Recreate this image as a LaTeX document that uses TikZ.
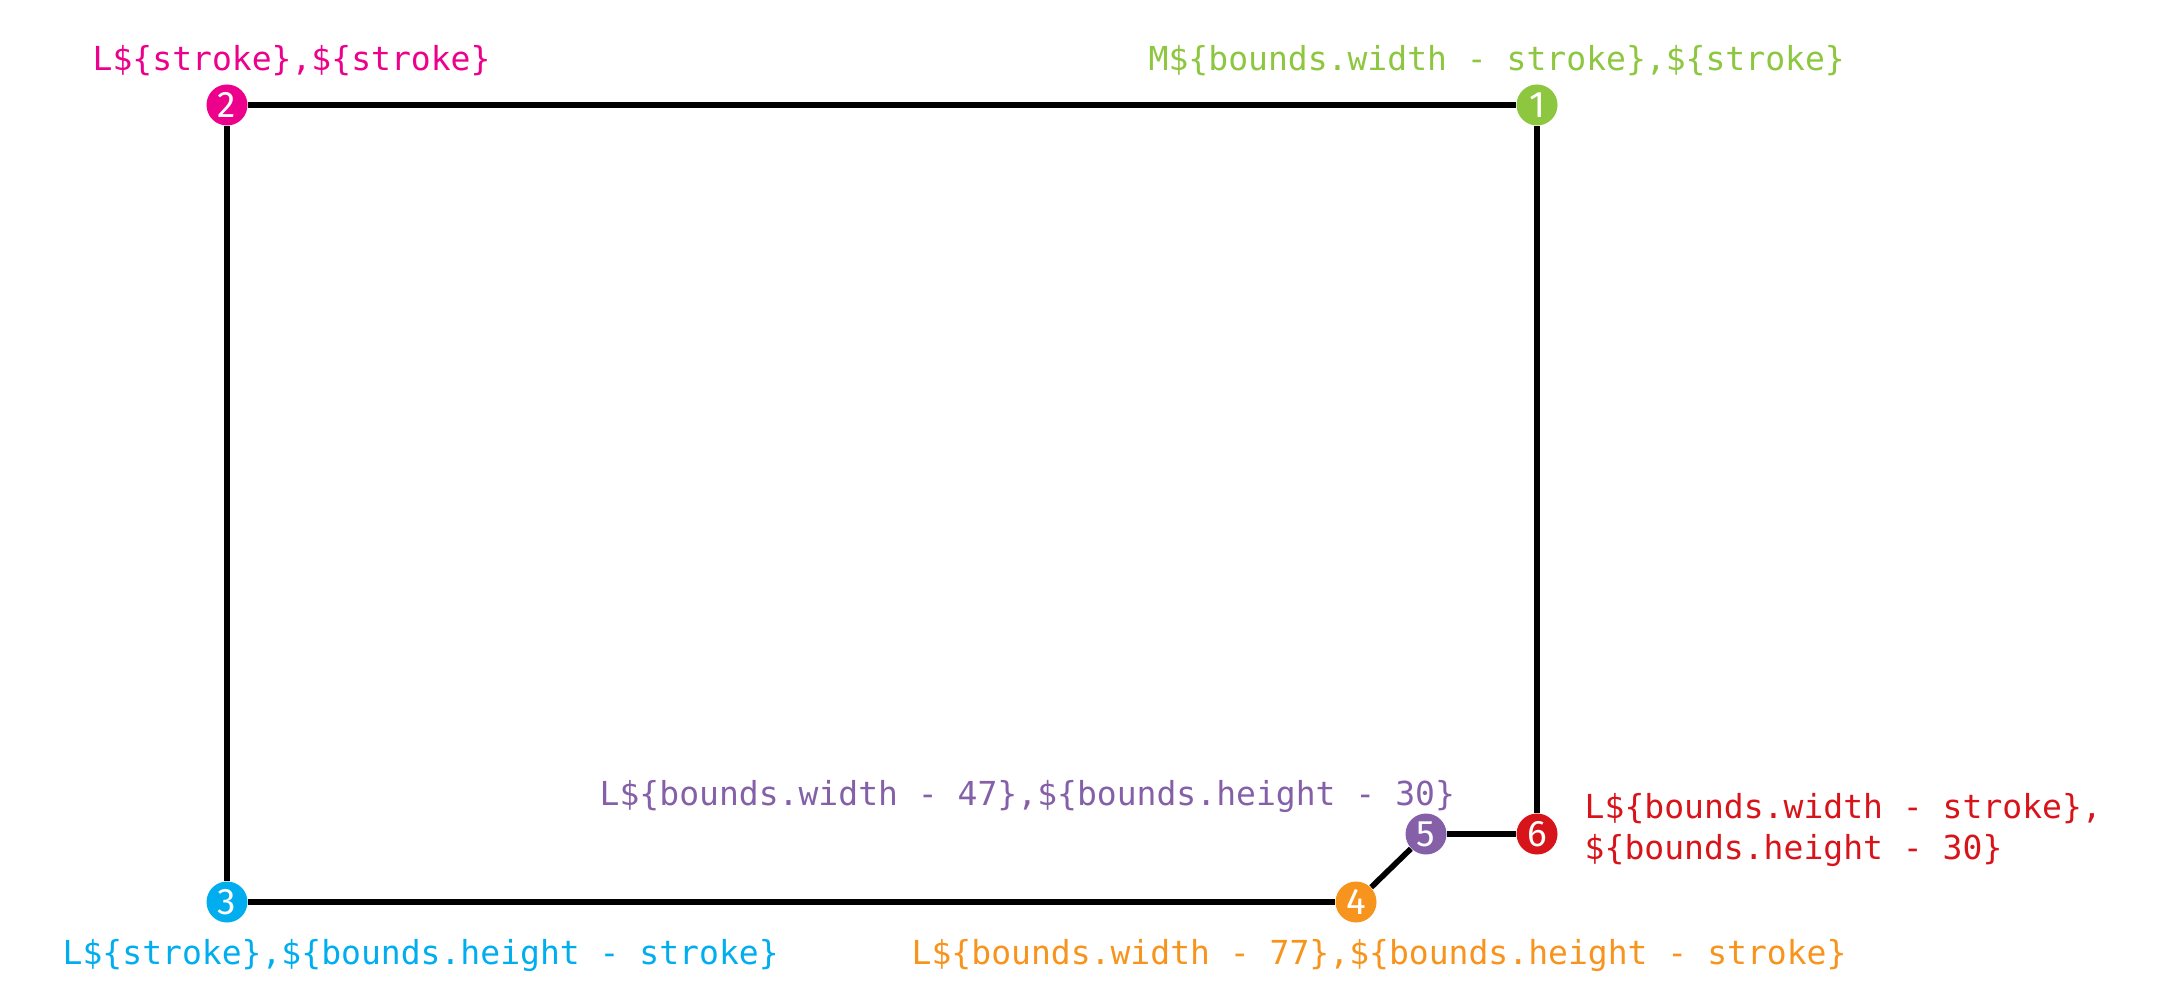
\documentclass[tikz,border=0pt]{standalone}
\usepackage{fontspec}
\setmonofont{DejaVu Sans Mono}
\setsansfont{Fira Sans}
\usetikzlibrary{positioning,graphs}
\definecolor{ptMagenta}{HTML}{EC008C}
\definecolor{ptGreen}{HTML}{8DC63F}
\definecolor{ptCyan}{HTML}{00AEEF}
\definecolor{ptOrange}{HTML}{F7941D}
\definecolor{ptPurple}{HTML}{8560A8}
\definecolor{ptRed}{HTML}{D7141A}

\begin{document}
\begin{tikzpicture}[dot/.style={circle, fill=#1, text=white, inner sep=0pt,
         minimum size=0.41cm, font=\sffamily\fontsize{10.5}{10.5}\selectfont},
         code/.style={text=#1, anchor=west, inner sep=0pt, align=left,
         font=\ttfamily\fontsize{9.4}{11.4}\selectfont}]
 \useasboundingbox (0,0) rectangle (21.6,-10.08);
 % the points of the path
 \node[dot=ptGreen]   (Move)      at (15.37,-1.05) {1};
 \node[dot=ptMagenta] (TopLeft)   at (2.27,-1.05)  {2};
 \node[dot=ptCyan]    (BotLeft)   at (2.27,-9.02)  {3};
 \node[dot=ptOrange]  (BotNotch)  at (13.56,-9.02) {4};
 \node[dot=ptPurple]  (TopNotch)  at (14.26,-8.34) {5};
 \node[dot=ptRed]     (RightNotch) at (15.37,-8.34) {6};
 \graph [use existing nodes, edges={line width=1.6pt}]
        { Move -- TopLeft -- BotLeft -- BotNotch -- TopNotch -- RightNotch -- Move };
 % the path commands
 \node[code=ptGreen]   (MoveText)     at (11.48,-0.61) {M\$\{bounds.width - stroke\},\$\{stroke\}};
 \node[code=ptMagenta] (TopLeftText)  at (0.92,-0.61)  {L\$\{stroke\},\$\{stroke\}};
 \node[code=ptCyan]    (BotLeftText)  at (0.62,-9.55)  {L\$\{stroke\},\$\{bounds.height - stroke\}};
 \node[code=ptOrange]  (BotNotchText) at (9.11,-9.55)  {L\$\{bounds.width - 77\},\$\{bounds.height - stroke\}};
 \node[code=ptPurple]  (TopNotchText) at (5.99,-7.96)  {L\$\{bounds.width - 47\},\$\{bounds.height - 30\}};
 \node[code=ptRed]     (RightNotchText) at (15.84,-8.30) {L\$\{bounds.width - stroke\},\\\$\{bounds.height - 30\}};
\end{tikzpicture}
\end{document}
